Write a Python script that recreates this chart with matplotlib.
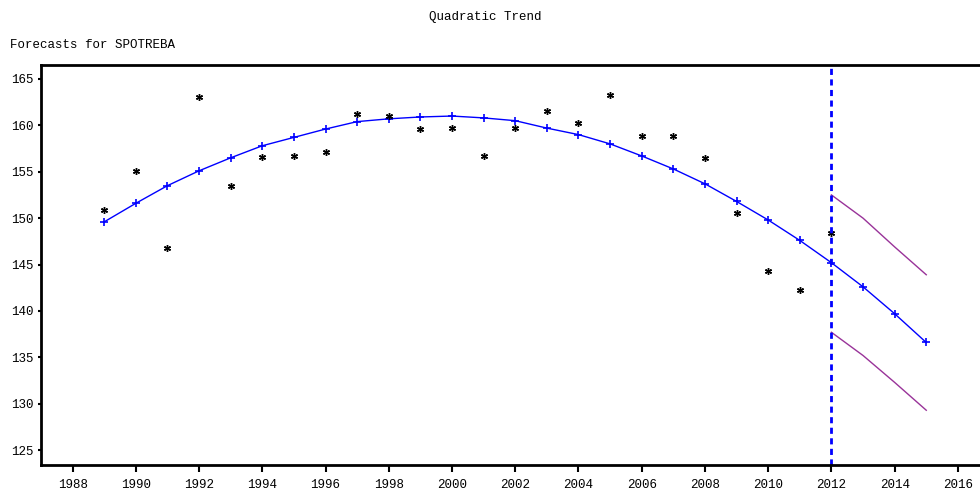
import matplotlib
matplotlib.use("Agg")
import matplotlib.pyplot as plt

# Observed series SPOTREBA
years_obs = [1989, 1990, 1991, 1992, 1993, 1994, 1995, 1996, 1997, 1998, 1999, 2000,
             2001, 2002, 2003, 2004, 2005, 2006, 2007, 2008, 2009, 2010, 2011, 2012]
actual = [150.9, 155.1, 146.8, 163.1, 153.5, 156.6, 156.7, 157.1, 161.2, 161.0, 159.6, 159.7,
          156.7, 159.7, 161.5, 160.3, 163.3, 158.9, 158.9, 156.5, 150.6, 144.3, 142.3, 148.4]

# Quadratic trend fit + forecasts
years_fit = list(range(1989, 2016))
fitted = [149.6, 151.6, 153.5, 155.1, 156.5, 157.8, 158.7, 159.6, 160.4, 160.7, 160.9, 161.0,
          160.8, 160.5, 159.7, 159.0, 158.0, 156.7, 155.3, 153.7, 151.8, 149.8, 147.6, 145.2,
          142.6, 139.7, 136.6]

# Forecast limits
years_fc = [2012, 2013, 2014, 2015]
upper = [152.5, 150.0, 146.9, 143.9]
lower = [137.7, 135.2, 132.3, 129.3]

forecast_start = 2012
yticks = list(range(125, 170, 5))
xticks = list(range(1988, 2018, 2))

FONT = "Liberation Mono"

fig = plt.figure(figsize=(9.8, 4.91), dpi=100)
ax = fig.add_axes([41 / 980, 26 / 491, 1 - 41 / 980, 400 / 491])

ax.plot(years_fit, fitted, color="#0000ff", lw=1.0, marker="+", ms=5.5, mew=1.2)
ax.plot(years_obs, actual, ls="none", color="black", marker=(6, 2, 0), ms=5, mew=1.0)
ax.plot(years_fc, upper, color="#993399", lw=1.0)
ax.plot(years_fc, lower, color="#993399", lw=1.0)
ax.axvline(forecast_start, color="#0000ff", lw=2, ls=(0, (2.2, 1.6)))

ax.set_xlim(1987.0, 2016.7)
ax.set_ylim(123.4, 166.5)
ax.set_xticks(xticks)
ax.set_yticks(yticks)

ax.tick_params(axis="x", direction="out", length=5, width=1.5, pad=5, labelsize=9)
ax.tick_params(axis="y", direction="out", length=2, width=1.5, pad=3, labelsize=9)
for lab in ax.get_xticklabels() + ax.get_yticklabels():
    lab.set_fontfamily(FONT)

for side in ["left", "bottom", "top"]:
    ax.spines[side].set_linewidth(2)
ax.spines["right"].set_visible(False)

fig.text(0.495, 1 - 17 / 491, "Quadratic Trend", ha="center", va="center",
         fontsize=9, family=FONT)
fig.text(10 / 980, 1 - 45 / 491, "Forecasts for SPOTREBA", ha="left", va="center",
         fontsize=9, family=FONT)

fig.savefig("out.png", dpi=100)
